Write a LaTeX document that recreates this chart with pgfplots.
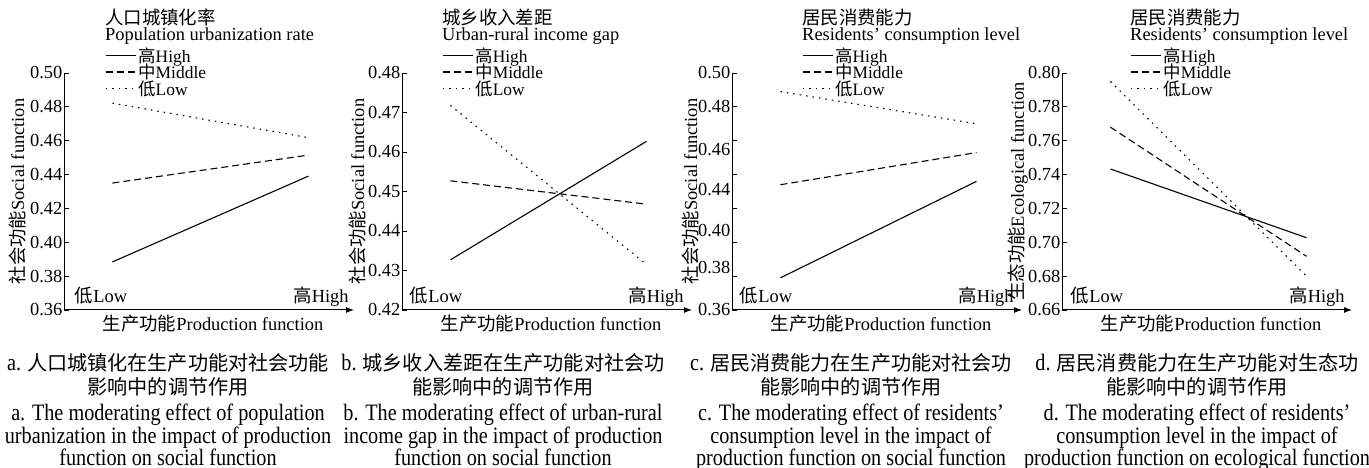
\documentclass[border=0pt]{standalone}
\usepackage{fontspec}
\setmainfont{Liberation Serif}
\newfontfamily\cjk{Noto Sans CJK SC}
\newfontfamily\capfont{Liberation Serif}[FakeStretch=0.86]
\usepackage{pgfplots}
\pgfplotsset{compat=1.18}
\usetikzlibrary{arrows.meta}
\newcommand{\zh}[1]{{\cjk #1}}
\newcommand{\pf}{\fontsize{18.5}{20}\selectfont}
\newcommand{\lf}{\fontsize{17.5}{19}\selectfont}
\newcommand{\capzh}{\fontsize{20.2}{24}\selectfont\cjk}
\newcommand{\capen}{\fontsize{23.6}{22}\selectfont\capfont}

\pgfplotsset{
 panel/.style={
  at={(#1bp,158bp)}, anchor=south west,
  scale only axis, width=290bp, height=237bp,
  axis lines=left,
  axis line style={line width=1bp},
  x axis line style={-{Latex[length=8bp,width=6bp]}},
  y axis line style={-},
  xmin=-0.247, xmax=1.232,
  xtick=\empty,
  tick align=inside, major tick length=5bp,
  tick style={black, line width=0.9bp},
  ticklabel style={font=\pf},
  /pgf/number format/assume math mode=true,
  yticklabel style={/pgf/number format/fixed, /pgf/number format/fixed zerofill, /pgf/number format/precision=2, inner xsep=1.5bp},
  label style={font=\pf},
  xlabel={\zh{生产功能}Production function},
  xlabel style={at={([xshift=4bp,yshift=-21bp]axis description cs:0.5,0)}, anchor=base},
  clip=false,
  legend style={draw=none, fill=none, inner sep=0pt, anchor=north west, font=\lf,
    nodes={inner sep=0pt, text height=12bp, text depth=4.5bp}, row sep=0pt, column sep=2bp},
  legend cell align=left,
  legend image code/.code={\draw[##1] (0bp,3bp) -- (30bp,3bp);},
 },
 hi/.style={black, line width=1.1bp},
 mi/.style={black, line width=1.1bp, dash pattern=on 7bp off 4bp},
 lo/.style={black, line width=1.1bp, dash pattern=on 1.5bp off 5bp},
}

\begin{document}
\begin{tikzpicture}
\useasboundingbox (0,0) rectangle (1369bp,468bp);

% ---------- Panel a ----------
\begin{axis}[panel=64, ymin=0.36, ymax=0.50,
  ytick={0.36,0.38,0.40,0.42,0.44,0.46,0.48,0.50},
  ylabel={\zh{社会功能}Social function},
  ylabel style={at={([xshift=-47bp]axis description cs:0,0.5)}, anchor=center},
  legend style={at={(0.1414,1.097)}}]
\addplot[hi] coordinates {(0,0.3884) (1,0.4391)};
\addlegendentry{\zh{高}High}
\addplot[mi] coordinates {(0,0.4350) (1,0.4515)};
\addlegendentry{\zh{中}Middle}
\addplot[lo] coordinates {(0,0.4822) (1,0.4618)};
\addlegendentry{\zh{低}Low}
\node[font=\pf, anchor=base, inner sep=0pt] at ([xshift=37bp,yshift=7bp]axis description cs:0,0) {\zh{低}Low};
\node[font=\pf, anchor=base, inner sep=0pt] at ([xshift=257bp,yshift=7bp]axis description cs:0,0) {\zh{高}High};
\end{axis}

% ---------- Panel b ----------
\begin{axis}[panel=402, ymin=0.42, ymax=0.48,
  ytick={0.42,0.43,0.44,0.45,0.46,0.47,0.48},
  ylabel={\zh{社会功能}Social function},
  ylabel style={at={([xshift=-45bp]axis description cs:0,0.5)}, anchor=center},
  legend style={at={(0.138,1.097)}}]
\addplot[hi] coordinates {(0,0.4327) (1,0.4627)};
\addlegendentry{\zh{高}High}
\addplot[mi] coordinates {(0,0.4527) (1,0.4468)};
\addlegendentry{\zh{中}Middle}
\addplot[lo] coordinates {(0,0.4718) (1,0.4315)};
\addlegendentry{\zh{低}Low}
\node[font=\pf, anchor=base, inner sep=0pt] at ([xshift=34bp,yshift=7bp]axis description cs:0,0) {\zh{低}Low};
\node[font=\pf, anchor=base, inner sep=0pt] at ([xshift=254bp,yshift=7bp]axis description cs:0,0) {\zh{高}High};
\end{axis}

% ---------- Panel c ----------
\begin{axis}[panel=732, ymin=0.36, ymax=0.50,
  ytick={0.36,0.38,0.40,0.42,0.44,0.46,0.48,0.50},
  yticklabels={,,,,,,,},
  extra y ticks={0.36,0.385,0.407,0.431,0.455,0.48,0.50},
  extra y tick labels={0.36,0.38,0.40,0.44,0.46,0.48,0.50},
  extra y tick style={major tick length=0pt},
  ylabel={\zh{社会功能}Social function},
  ylabel style={at={([xshift=-42bp]axis description cs:0,0.5)}, anchor=center},
  legend style={at={(0.241,1.097)}}]
\addplot[hi] coordinates {(0,0.379) (1,0.436)};
\addlegendentry{\zh{高}High}
\addplot[mi] coordinates {(0,0.434) (1,0.453)};
\addlegendentry{\zh{中}Middle}
\addplot[lo] coordinates {(0,0.489) (1,0.470)};
\addlegendentry{\zh{低}Low}
\node[font=\pf, anchor=base, inner sep=0pt] at ([xshift=34bp,yshift=7bp]axis description cs:0,0) {\zh{低}Low};
\node[font=\pf, anchor=base, inner sep=0pt] at ([xshift=254bp,yshift=7bp]axis description cs:0,0) {\zh{高}High};
\end{axis}

% ---------- Panel d ----------
\begin{axis}[panel=1062, ymin=0.66, ymax=0.80,
  ytick={0.66,0.68,0.70,0.72,0.74,0.76,0.78,0.80},
  ylabel={\zh{生态功能}Ecological function},
  ylabel style={at={([xshift=-44bp]axis description cs:0,0.5)}, anchor=center},
  legend style={at={(0.2345,1.097)}}]
\addplot[hi] coordinates {(0,0.7433) (1,0.7027)};
\addlegendentry{\zh{高}High}
\addplot[mi] coordinates {(0,0.768) (1,0.6917)};
\addlegendentry{\zh{中}Middle}
\addplot[lo] coordinates {(0,0.795) (1,0.680)};
\addlegendentry{\zh{低}Low}
\node[font=\pf, anchor=base, inner sep=0pt] at ([xshift=35bp,yshift=7bp]axis description cs:0,0) {\zh{低}Low};
\node[font=\pf, anchor=base, inner sep=0pt] at ([xshift=255bp,yshift=7bp]axis description cs:0,0) {\zh{高}High};
\end{axis}

% ---------- legend titles ----------
\node[anchor=base west, inner sep=0pt, font=\pf] at (105bp,443bp) {\zh{人口城镇化率}};
\node[anchor=base west, inner sep=0pt, font=\pf] at (105bp,427bp) {Population urbanization rate};
\node[anchor=base west, inner sep=0pt, font=\pf] at (442bp,443bp) {\zh{城乡收入差距}};
\node[anchor=base west, inner sep=0pt, font=\pf] at (442bp,427bp) {Urban-rural income gap};
\node[anchor=base west, inner sep=0pt, font=\pf] at (802bp,443bp) {\zh{居民消费能力}};
\node[anchor=base west, inner sep=0pt, font=\pf] at (802bp,427bp) {Residents' consumption level};
\node[anchor=base west, inner sep=0pt, font=\pf] at (1130bp,443bp) {\zh{居民消费能力}};
\node[anchor=base west, inner sep=0pt, font=\pf] at (1130bp,427bp) {Residents' consumption level};

% ---------- captions ----------
\node[anchor=base, inner sep=0pt] at (168bp,97bp) {\capen a.\hspace{6bp}\capzh 人口城镇化在生产功能对社会功能};
\node[anchor=base, inner sep=0pt] at (168bp,73bp) {\capzh 影响中的调节作用};
\node[anchor=base, inner sep=0pt] at (168bp,47bp) {\capen a. The moderating effect of population};
\node[anchor=base, inner sep=0pt] at (168bp,25bp) {\capen urbanization in the impact of production};
\node[anchor=base, inner sep=0pt] at (168bp,3bp) {\capen function on social function};

\node[anchor=base, inner sep=0pt] at (503bp,97bp) {\capen b.\hspace{6bp}\capzh 城乡收入差距在生产功能对社会功};
\node[anchor=base, inner sep=0pt] at (503bp,73bp) {\capzh 能影响中的调节作用};
\node[anchor=base, inner sep=0pt] at (503bp,47bp) {\capen b. The moderating effect of urban-rural};
\node[anchor=base, inner sep=0pt] at (503bp,25bp) {\capen income gap in the impact of production};
\node[anchor=base, inner sep=0pt] at (503bp,3bp) {\capen function on social function};

\node[anchor=base, inner sep=0pt] at (851bp,97bp) {\capen c.\hspace{6bp}\capzh 居民消费能力在生产功能对社会功};
\node[anchor=base, inner sep=0pt] at (851bp,73bp) {\capzh 能影响中的调节作用};
\node[anchor=base, inner sep=0pt] at (851bp,47bp) {\capen c. The moderating effect of residents’};
\node[anchor=base, inner sep=0pt] at (851bp,25bp) {\capen consumption level in the impact of};
\node[anchor=base, inner sep=0pt] at (851bp,3bp) {\capen production function on social function};

\node[anchor=base, inner sep=0pt] at (1197bp,97bp) {\capen d.\hspace{6bp}\capzh 居民消费能力在生产功能对生态功};
\node[anchor=base, inner sep=0pt] at (1197bp,73bp) {\capzh 能影响中的调节作用};
\node[anchor=base, inner sep=0pt] at (1197bp,47bp) {\capen d. The moderating effect of residents’};
\node[anchor=base, inner sep=0pt] at (1197bp,25bp) {\capen consumption level in the impact of};
\node[anchor=base, inner sep=0pt] at (1197bp,3bp) {\capen production function on ecological function};
\end{tikzpicture}
\end{document}
